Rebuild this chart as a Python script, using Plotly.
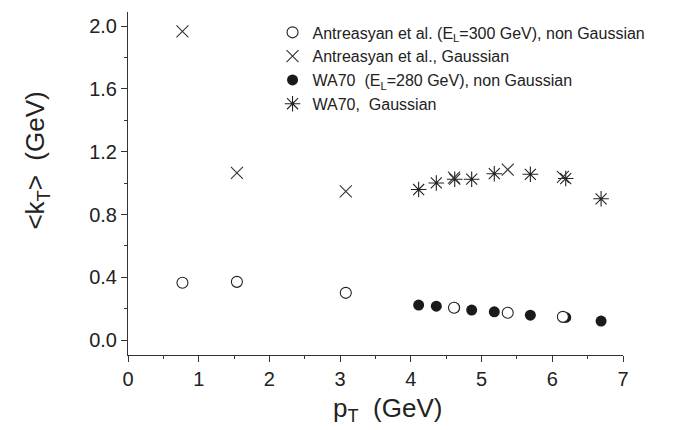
import plotly.graph_objects as go

# Antreasyan et al. (E_L = 300 GeV)
antre_pt = [0.77, 1.54, 3.08, 4.61, 5.37, 6.15]
antre_nongauss = [0.365, 0.371, 0.301, 0.206, 0.174, 0.148]
antre_gauss = [1.966, 1.065, 0.948, 1.035, 1.086, 1.040]

# WA70 (E_L = 280 GeV)
wa70_pt = [4.11, 4.36, 4.62, 4.86, 5.18, 5.69, 6.19, 6.69]
wa70_nongauss = [0.223, 0.216, 0.206, 0.191, 0.180, 0.159, 0.144, 0.121]
wa70_gauss = [0.959, 1.001, 1.025, 1.025, 1.060, 1.056, 1.029, 0.900]

names = [
    "Antreasyan et al. (E<sub>L</sub>=300 GeV), non Gaussian",
    "Antreasyan et al., Gaussian",
    "WA70  (E<sub>L</sub>=280 GeV), non Gaussian",
    "WA70,  Gaussian",
]

ink = "#222222"
fig = go.Figure()
# filled WA70 circles drawn first so the white-filled open circles sit on top
fig.add_trace(go.Scatter(x=wa70_pt, y=wa70_nongauss, mode="markers", name=names[2],
                         legendrank=3,
                         marker=dict(symbol="circle", size=11, color="#1a1a1a", line=dict(width=0))))
fig.add_trace(go.Scatter(x=antre_pt, y=antre_nongauss, mode="markers", name=names[0],
                         legendrank=1,
                         marker=dict(symbol="circle", size=11, color="white", line=dict(width=1.1, color=ink))))
fig.add_trace(go.Scatter(x=wa70_pt, y=wa70_gauss, mode="markers", name=names[3],
                         legendrank=4,
                         marker=dict(symbol="asterisk-open", size=13, color=ink, line=dict(width=1.1, color=ink))))
fig.add_trace(go.Scatter(x=antre_pt, y=antre_gauss, mode="markers", name=names[1],
                         legendrank=2,
                         marker=dict(symbol="x-thin-open", size=12, color="#333333", line=dict(width=1.1, color="#333333"))))

axis_common = dict(
    showline=True, linecolor="#333333", linewidth=1, showgrid=False, zeroline=False,
    ticks="outside", ticklen=6, tickwidth=1, tickcolor="#333333",
    tickfont=dict(family="Liberation Sans, Arial, sans-serif", size=20, color="#222222"),
    mirror=False,
)

fig.update_layout(
    width=678, height=430,
    margin=dict(l=127.5, r=55.3, t=11.7, b=75),
    paper_bgcolor="white", plot_bgcolor="white",
    font=dict(family="Liberation Sans, Arial, sans-serif", color="#222222"),
    showlegend=True,
    legend=dict(x=0.292, y=0.99, xanchor="left", yanchor="top",
                bgcolor="rgba(0,0,0,0)", font=dict(size=16, color="#222222"),
                tracegroupgap=0, itemwidth=30, traceorder="normal"),
    xaxis=dict(range=[0, 7], dtick=1, tick0=0,
               minor=dict(ticks="outside", ticklen=3, dtick=0.5, tickcolor="#333333"),
               **axis_common),
    yaxis=dict(range=[-0.095, 2.09], dtick=0.4, tick0=0, tickformat=".1f",
               minor=dict(ticks="outside", ticklen=3, dtick=0.2, tickcolor="#333333"),
               **axis_common),
    annotations=[
        dict(text="p<sub>T</sub>  (GeV)", xref="paper", yref="paper", x=0.524, y=-0.16,
             xanchor="center", yanchor="middle", showarrow=False,
             font=dict(size=26, color="#222222")),
        dict(text="&lt;k<sub>T</sub>&gt;  (GeV)", xref="paper", yref="paper", x=-0.185, y=0.568,
             xanchor="center", yanchor="middle", showarrow=False, textangle=-90,
             font=dict(size=26, color="#222222")),
    ],
)

fig.write_html("out.html")
